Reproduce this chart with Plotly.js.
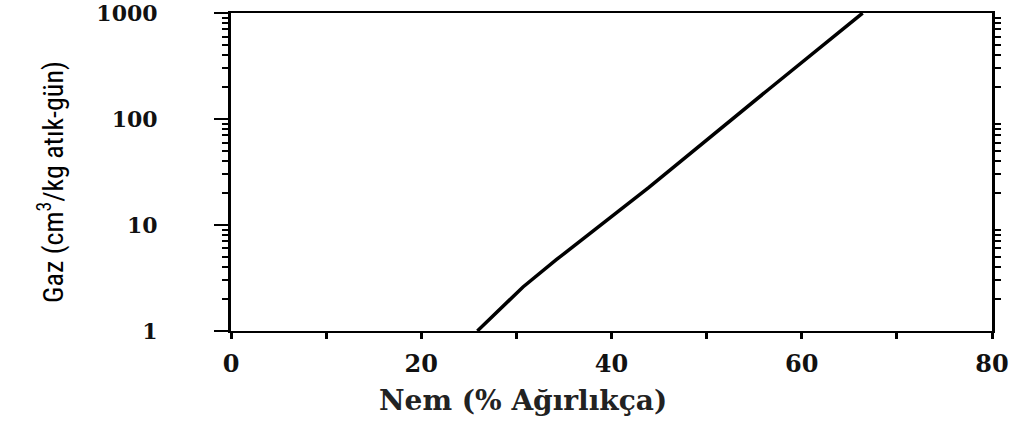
<!DOCTYPE html>
<html>
<head>
<meta charset="utf-8">
<script src="https://cdn.plot.ly/plotly-3.0.1.min.js"></script>
<style>html,body{margin:0;padding:0;background:#fff;}#chart{width:1021px;height:423px;}</style>
</head>
<body>
<div id="chart"></div>
<script>
// Data
const nem = [25.9, 30.7, 34.2, 43.9, 56.5, 66.4];
const gaz = [1, 2.6, 4.7, 22.5, 190, 1000];

// Tick values / labels
const xTickVals = [0, 20, 40, 60, 80];
const xTickText = ['0', '20', '40', '60', '80'];
const yMajorVals = [1, 10, 100, 1000];
const yMajorText = ['1', '10', '100', '1000'];
const yMinorVals = [2,3,4,5,6,7,8,9,20,30,40,50,60,70,80,90,200,300,400,500,600,700,800,900];

const xTitle = 'Nem (% Ağırlıkça)';
const yTitle = 'Gaz (cm<sup>3</sup>/kg atık-gün)';

const xTickFont = {family: 'DejaVu Serif', size: 24, color: '#111', weight: 'bold'};
const yTickFont = {family: 'DejaVu Serif', size: 22, color: '#111', weight: 'bold'};
const yRange = [-0.0005, 3.0005];

const traces = [
  {x: nem, y: gaz, type: 'scatter', mode: 'lines', line: {color: '#000', width: 3.5}, showlegend: false, hoverinfo: 'skip'},
  {x: [0], y: [1], type: 'scatter', mode: 'none', yaxis: 'y2', showlegend: false, hoverinfo: 'skip'}
];

const layout = {
  width: 1021, height: 423,
  margin: {l: 231, r: 29, t: 13, b: 92},
  paper_bgcolor: '#fff', plot_bgcolor: '#fff',
  showlegend: false,
  xaxis: {
    range: [0, 80], showgrid: false, zeroline: false,
    showline: true, linecolor: '#000', linewidth: 2, mirror: true,
    tickmode: 'array', tickvals: xTickVals, ticktext: xTickText,
    ticks: 'outside', ticklen: 6, tickwidth: 3, tickcolor: '#000',
    minor: {dtick: 10, tick0: 0, ticks: 'outside', ticklen: 6, tickwidth: 3, tickcolor: '#000', showgrid: false},
    tickfont: xTickFont, ticklabelstandoff: 4, ticklabeloverflow: 'allow'
  },
  yaxis: {
    type: 'log', range: yRange, showgrid: false, zeroline: false,
    showline: true, linecolor: '#000', linewidth: 3, mirror: 'allticks',
    tickmode: 'array', tickvals: yMinorVals, showticklabels: false,
    ticks: 'outside', ticklen: 6, tickwidth: 2, tickcolor: '#000'
  },
  yaxis2: {
    type: 'log', range: yRange, overlaying: 'y', side: 'left',
    showgrid: false, zeroline: false, showline: false,
    tickmode: 'array', tickvals: yMajorVals, ticktext: yMajorText,
    ticks: 'outside', ticklen: 16, tickwidth: 2, tickcolor: '#000',
    tickfont: yTickFont, ticklabelstandoff: 52, ticklabeloverflow: 'allow'
  },
  annotations: [
    {text: xTitle, xref: 'paper', yref: 'paper', x: 0.384, y: -0.217,
     xanchor: 'center', yanchor: 'middle', showarrow: false,
     font: {family: 'DejaVu Serif', size: 28, color: '#222', weight: 'bold'}},
    {text: yTitle, xref: 'paper', yref: 'paper', x: -0.236, y: 0.47,
     xanchor: 'center', yanchor: 'middle', showarrow: false, textangle: -90,
     font: {family: 'Liberation Sans Narrow, Roboto Condensed, Roboto, sans-serif', size: 28, color: '#000'}}
  ]
};

Plotly.newPlot('chart', traces, layout, {staticPlot: true, displayModeBar: false});
</script>
</body>
</html>
